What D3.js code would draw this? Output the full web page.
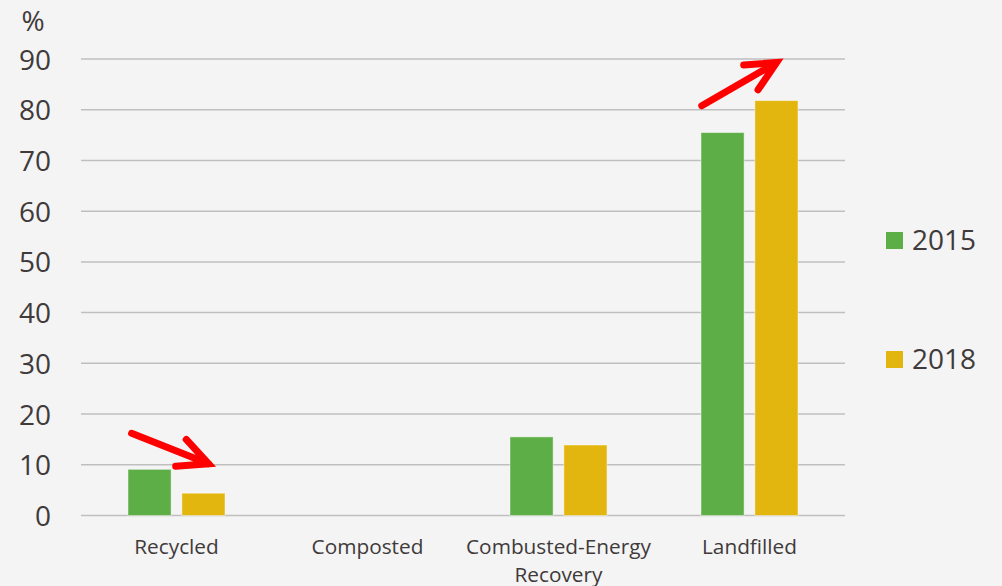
<!DOCTYPE html>
<html>
<head>
<meta charset="utf-8">
<script src="https://cdn.jsdelivr.net/npm/d3@7/dist/d3.min.js"></script>
<style>
  html, body { margin: 0; padding: 0; background: #f4f4f4; }
  svg { display: block; }
  text { font-family: "Open Sans", sans-serif; fill: #403a3a; }
</style>
</head>
<body>
<script>
// ---- data ----
const categories = ["Recycled", "Composted", "Combusted-Energy Recovery", "Landfilled"];
const categoryLines = [["Recycled"], ["Composted"], ["Combusted-Energy", "Recovery"], ["Landfilled"]];
const seriesNames = ["2015", "2018"];
const values2015 = [9.1, 0, 15.5, 75.5];
const values2018 = [4.4, 0, 13.9, 81.8];
const yTicks = [0, 10, 20, 30, 40, 50, 60, 70, 80, 90];
const yUnit = "%";
// annotation arrows: category, fractional position within band, value
const arrows = [
  { cat: "Recycled",   from: [0.265, 16.2], to: [0.668, 10.2] },
  { cat: "Landfilled", from: [0.250, 80.8], to: [0.642, 89.3] }
];

const colors = { "2015": "#5dae47", "2018": "#e3b60f" };
const seriesValues = { "2015": values2015, "2018": values2018 };

const W = 1002, H = 586;
const margin = { left: 81, right: 157, top: 59, bottom: 70 };
const plotW = W - margin.left - margin.right;   // 764

const svg = d3.select("body").append("svg").attr("width", W).attr("height", H);
svg.append("rect").attr("width", W).attr("height", H).attr("fill", "#f4f4f4");

const y = d3.scaleLinear().domain([0, 90]).range([515.5, 59]);
const x0 = d3.scaleBand().domain(categories).range([margin.left, margin.left + plotW])
  .paddingInner(0.492).paddingOuter(0.246);
const bandFull = plotW / categories.length;
const x1 = d3.scaleBand().domain(seriesNames).range([0, x0.bandwidth()]).paddingInner(0.2);
const xFrac = (cat, f) => x0(cat) - x0.step() * 0.246 + f * bandFull;

// gridlines
svg.append("g").selectAll("line").data(yTicks).join("line")
  .attr("x1", margin.left).attr("x2", margin.left + plotW)
  .attr("y1", d => y(d)).attr("y2", d => y(d))
  .attr("stroke", "#bfbfbf").attr("stroke-width", 1.5);

// y tick labels
const yAxis = d3.axisLeft(y).tickValues(yTicks).tickSize(0).tickPadding(0);
const yg = svg.append("g").attr("transform", "translate(51,0)").call(yAxis);
yg.select(".domain").remove();
yg.selectAll("text").style("font-size", "28px").style("font-family", "'Open Sans', sans-serif")
  .attr("fill", "#403a3a").attr("dy", "0.36em");

svg.append("text").attr("x", 33).attr("y", 31).attr("text-anchor", "middle")
  .style("font-size", "28px").text(yUnit);

// bars
const groups = svg.append("g").selectAll("g").data(categories).join("g")
  .attr("transform", d => `translate(${x0(d)},0)`);
groups.selectAll("rect")
  .data((c, i) => seriesNames.map(s => ({ s, v: seriesValues[s][i] })))
  .join("rect")
  .filter(d => d.v > 0)
  .attr("x", d => x1(d.s)).attr("width", x1.bandwidth())
  .attr("y", d => y(d.v)).attr("height", d => y(0) - y(d.v))
  .attr("fill", d => colors[d.s])
  .attr("stroke", "rgba(255,255,255,0.45)").attr("stroke-width", 1);

// x labels
const xl = svg.append("g").selectAll("text").data(categories).join("text")
  .attr("x", d => x0(d) + x0.bandwidth() / 2)
  .attr("y", 554)
  .attr("text-anchor", "middle")
  .style("font-size", "20.8px");
xl.each(function (d, i) {
  const t = d3.select(this);
  categoryLines[i].forEach((ln, j) => {
    t.append("tspan").attr("x", x0(d) + x0.bandwidth() / 2).attr("dy", j === 0 ? 0 : 28).text(ln);
  });
});

// legend
const lg = svg.append("g").selectAll("g").data(seriesNames).join("g")
  .attr("transform", (d, i) => `translate(886,${232 + i * 119})`);
lg.append("rect").attr("width", 17).attr("height", 17).attr("fill", d => colors[d]);
lg.append("text").attr("x", 26).attr("y", 18).style("font-size", "28px").text(d => d);

// arrows
const ag = svg.append("g");
arrows.forEach(a => {
  const x1p = xFrac(a.cat, a.from[0]), y1p = y(a.from[1]);
  const x2p = xFrac(a.cat, a.to[0]), y2p = y(a.to[1]);
  const ang = Math.atan2(y2p - y1p, x2p - x1p) + Math.PI;
  const L = 33, half = 0.45;
  const path = d3.path();
  path.moveTo(x1p, y1p); path.lineTo(x2p, y2p);
  path.moveTo(x2p + L * Math.cos(ang + half), y2p + L * Math.sin(ang + half));
  path.lineTo(x2p, y2p);
  path.lineTo(x2p + L * Math.cos(ang - half), y2p + L * Math.sin(ang - half));
  ag.append("path").attr("d", path.toString()).attr("fill", "none")
    .attr("stroke", "#ff0000").attr("stroke-width", 7)
    .attr("stroke-linecap", "round").attr("stroke-linejoin", "miter");
});
</script>
</body>
</html>
